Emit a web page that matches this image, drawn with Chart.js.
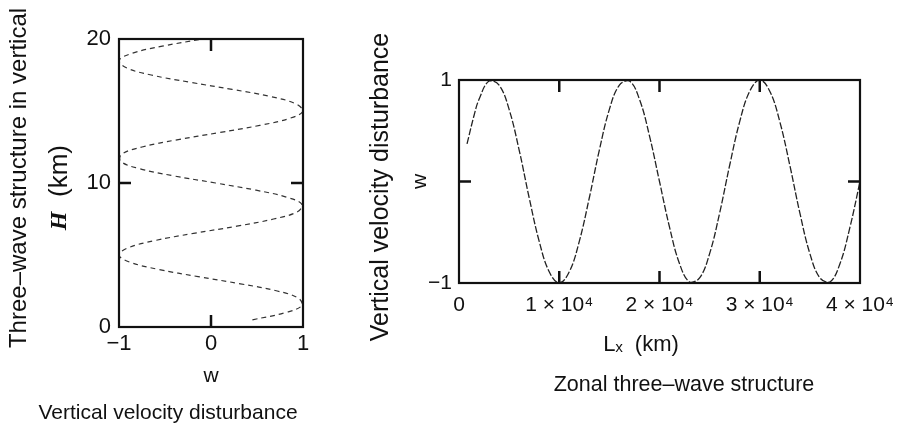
<!DOCTYPE html>
<html>
<head>
<meta charset="utf-8">
<script src="https://cdn.jsdelivr.net/npm/chart.js@4.4.1/dist/chart.umd.min.js"></script>
<style>
  body { margin: 0; background: #fff; }
  #wrap { position: relative; width: 900px; height: 429px; }
  #c1 { position: absolute; left: 0; top: 0; }
  #c2 { position: absolute; left: 330px; top: 0; }
</style>
</head>
<body>
<div id="wrap">
  <canvas id="c1" width="330" height="429"></canvas>
  <canvas id="c2" width="570" height="429"></canvas>
</div>
<script>
// vertical profile (left panel): height H in km and w
const heightKm = [0.5, 1, 1.5, 2, 2.5, 3, 3.5, 4, 4.5, 5, 5.5, 6, 6.5, 7, 7.5, 8, 8.5, 9, 9.5, 10,
  10.5, 11, 11.5, 12, 12.5, 13, 13.5, 14, 14.5, 15, 15.5, 16, 16.5, 17, 17.5, 18, 18.5, 19, 19.5, 20];
const wVertical = [0.45, 0.81, 0.99, 0.95, 0.72, 0.32, -0.14, -0.57, -0.88, -1.0, -0.9, -0.61, -0.19, 0.28, 0.68, 0.94, 0.99, 0.83, 0.49, 0.05,
  -0.41, -0.78, -0.98, -0.97, -0.75, -0.37, 0.09, 0.53, 0.86, 1.0, 0.92, 0.65, 0.23, -0.23, -0.65, -0.92, -1.0, -0.86, -0.53, -0.09];

// zonal structure (right panel): Lx in km and w
const zonalKm = [800, 1500, 2000, 3000, 4000, 5000, 6000, 7000, 8000, 9000, 10000,
  11000, 12000, 13000, 14000, 15000, 16000, 17000, 18000, 19000, 20000,
  21000, 22000, 23000, 24000, 25000, 26000, 27000, 28000, 29000, 30000,
  31000, 32000, 33000, 34000, 35000, 36000, 37000, 38000, 39000, 40000];
const wZonal = [0.37, 0.65, 0.81, 0.99, 0.95, 0.71, 0.31, -0.16, -0.59, -0.89, -1.0,
  -0.89, -0.59, -0.16, 0.31, 0.71, 0.95, 0.99, 0.81, 0.45, 0.0,
  -0.45, -0.81, -0.99, -0.95, -0.71, -0.31, 0.16, 0.59, 0.89, 1.0,
  0.89, 0.59, 0.16, -0.31, -0.71, -0.95, -0.99, -0.81, -0.45, 0.0];

const wTicksLeft = [-1, 0, 1];
const hTicks = [0, 10, 20];
const lxTicks = [0, 10000, 20000, 30000, 40000];
const wTicksRight = [-1, 1];

Chart.defaults.font.family = '"Liberation Sans", Arial, sans-serif';
Chart.defaults.color = '#111';

function minusLabel(v) {
  return v < 0 ? '\u2212' + Math.abs(v) : String(v);
}

// box round the plot, inward tick marks and the free text
const frame = {
  id: 'frame',
  afterDraw(chart, args, opts) {
    const { ctx, chartArea: a, scales } = chart;
    ctx.save();
    ctx.strokeStyle = '#111';
    ctx.lineWidth = 2.2;
    ctx.strokeRect(a.left, a.top, a.width, a.height);
    ctx.lineWidth = 2.5;
    ctx.beginPath();
    opts.xMarks.forEach(v => {
      const x = scales.x.getPixelForValue(v);
      ctx.moveTo(x, a.bottom); ctx.lineTo(x, a.bottom - 12);
      ctx.moveTo(x, a.top); ctx.lineTo(x, a.top + 12);
    });
    opts.yMarks.forEach(v => {
      const y = scales.y.getPixelForValue(v);
      ctx.moveTo(a.left, y); ctx.lineTo(a.left + 12, y);
      ctx.moveTo(a.right, y); ctx.lineTo(a.right - 12, y);
    });
    ctx.stroke();
    opts.texts.forEach(t => {
      ctx.save();
      ctx.translate(t.x, t.y);
      ctx.rotate(t.rot || 0);
      ctx.font = t.font;
      ctx.fillStyle = '#111';
      ctx.textAlign = 'center';
      ctx.textBaseline = 'middle';
      ctx.fillText(t.text, 0, 0);
      ctx.restore();
    });
    ctx.restore();
  }
};

// left panel
new Chart(document.getElementById('c1'), {
  type: 'scatter',
  data: {
    datasets: [{
      data: heightKm.map((h, i) => ({ x: wVertical[i], y: h })),
      showLine: true,
      borderColor: '#333',
      borderWidth: 1.2,
      borderDash: [5, 4],
      pointRadius: 0,
      tension: 0.4
    }]
  },
  options: {
    responsive: false,
    animation: false,
    layout: { padding: { top: 39, right: 27, bottom: 0, left: 0 } },
    plugins: {
      legend: { display: false },
      tooltip: { enabled: false },
      frame: {
        xMarks: [0],
        yMarks: [10],
        texts: [
          { text: 'Three\u2013wave structure in vertical', x: 19, y: 178, rot: -Math.PI / 2, font: '24px "Liberation Sans"' },
          { text: '(km)', x: 60, y: 171, rot: -Math.PI / 2, font: '26px "Liberation Sans"' },
          { text: 'H', x: 60, y: 221, rot: -Math.PI / 2, font: 'italic bold 24px "Liberation Serif"' },
          { text: 'Vertical velocity disturbance', x: 168, y: 413, font: '21px "Liberation Sans"' }
        ]
      }
    },
    scales: {
      x: {
        type: 'linear',
        min: -1,
        max: 1,
        afterFit: s => { s.height = 102; },
        afterBuildTicks: s => { s.ticks = wTicksLeft.map(v => ({ value: v })); },
        ticks: { font: { size: 22 }, padding: 4, callback: minusLabel },
        grid: { display: false, drawTicks: false },
        border: { display: false },
        title: { display: true, text: 'w', font: { size: 21 }, padding: { top: 0, bottom: 40 } }
      },
      y: {
        type: 'linear',
        min: 0,
        max: 20,
        afterFit: s => { s.width = 119; },
        afterBuildTicks: s => { s.ticks = hTicks.map(v => ({ value: v })); },
        ticks: { font: { size: 22 }, padding: 8 },
        grid: { display: false, drawTicks: false },
        border: { display: false }
      }
    }
  },
  plugins: [frame]
});

// right panel
new Chart(document.getElementById('c2'), {
  type: 'scatter',
  data: {
    datasets: [{
      data: zonalKm.map((lx, i) => ({ x: lx, y: wZonal[i] })),
      showLine: true,
      borderColor: '#222',
      borderWidth: 1.3,
      borderDash: [7, 2],
      pointRadius: 0,
      tension: 0.4
    }]
  },
  options: {
    responsive: false,
    animation: false,
    layout: { padding: { top: 80, right: 40, bottom: 0, left: 0 } },
    plugins: {
      legend: { display: false },
      tooltip: { enabled: false },
      frame: {
        xMarks: [10000, 20000, 30000],
        yMarks: [0],
        texts: [
          { text: 'Vertical velocity disturbance', x: 51, y: 187, rot: -Math.PI / 2, font: '25px "Liberation Sans"' },
          { text: 'L\u2093  (km)', x: 311, y: 345, font: '22px "Liberation Sans"' },
          { text: 'Zonal three\u2013wave structure', x: 354, y: 385, font: '21.5px "Liberation Sans"' }
        ]
      }
    },
    scales: {
      x: {
        type: 'linear',
        min: 0,
        max: 40000,
        afterFit: s => { s.height = 146; s.paddingRight = 30; },
        afterBuildTicks: s => { s.ticks = lxTicks.map(v => ({ value: v })); },
        ticks: {
          font: { size: 21 },
          padding: 10,
          callback: v => v === 0 ? '0' : (v / 10000) + ' \u00d7 10\u2074'
        },
        grid: { display: false, drawTicks: false },
        border: { display: false }
      },
      y: {
        type: 'linear',
        min: -1,
        max: 1,
        afterFit: s => { s.width = 129; },
        afterBuildTicks: s => { s.ticks = wTicksRight.map(v => ({ value: v })); },
        ticks: { font: { size: 21 }, padding: 7, callback: minusLabel },
        grid: { display: false, drawTicks: false },
        border: { display: false },
        title: { display: true, text: 'w', font: { size: 21 }, padding: { top: 78, bottom: 0 } }
      }
    }
  },
  plugins: [frame]
});
</script>
</body>
</html>
